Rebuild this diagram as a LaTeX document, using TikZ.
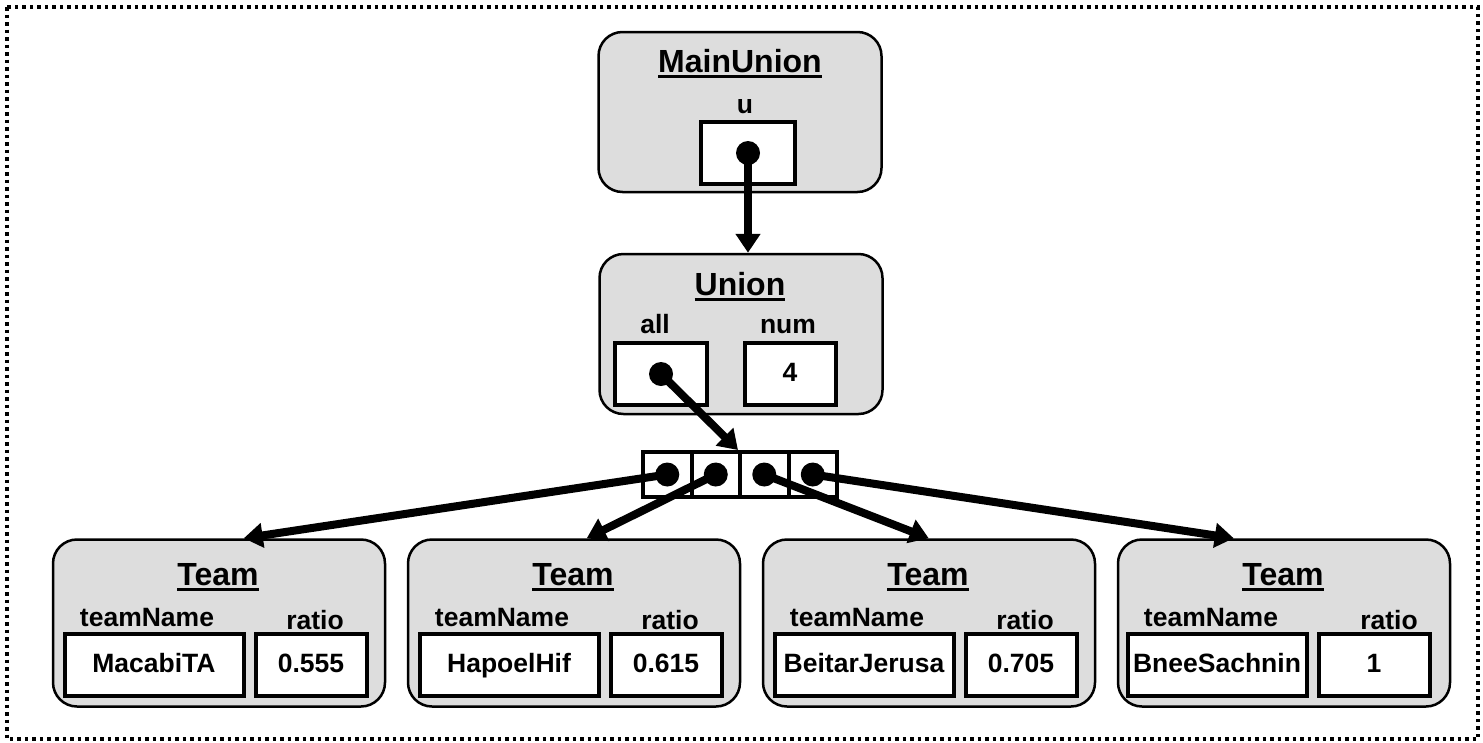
\documentclass[tikz,border=0pt]{standalone}
\usepackage{fontspec}
\setmainfont{Liberation Sans}
\usetikzlibrary{arrows.meta,calc}
\definecolor{recgray}{RGB}{221,221,221}
\newcommand{\rectitle}[1]{\setbox0=\hbox{#1}\rlap{\rule[-6pt]{\wd0}{3pt}}\box0}

\begin{document}
\begin{tikzpicture}[
    x=1pt, y=-1pt,
    record/.style={rectangle, draw, line width=2.5pt, fill=recgray, rounded corners=24pt, minimum width=283pt, minimum height=160pt},
    team/.style={record, minimum width=332pt, minimum height=167pt},
    field/.style={rectangle, draw, line width=4pt, fill=white, minimum height=62pt, inner sep=0pt, text height=14pt, text depth=0pt, font=\fontsize{26.5}{30}\selectfont\bfseries},
    cell/.style={rectangle, draw, line width=4pt, fill=white, minimum width=48.5pt, minimum height=45pt},
    rtitle/.style={anchor=base, font=\fontsize{32}{36}\selectfont\bfseries},
    fname/.style={anchor=base, font=\fontsize{26.5}{30}\selectfont\bfseries},
    arrow/.style={-{Triangle[length=19pt,width=24pt]}, line width=8pt}
]

\useasboundingbox (0,0) rectangle (1483,742);
\draw[line width=3.5pt, dash pattern=on 3.5pt off 4pt] (7,7) rectangle (1478,739);

\node[record] (main) at (740,112) {};
\node[rtitle] (mainT) at (740,72) {\rectitle{MainUnion}};
\node[fname] (uL) at (745,113) {u};
\node[field, minimum width=94pt] (u) at (748,153) {};

\node[record] (union) at (741,334) {};
\node[rtitle] (unionT) at (740,295) {\rectitle{Union}};
\node[fname] (allL) at (655,333) {all};
\node[fname] (numL) at (788,333) {num};
\node[field, minimum width=92pt] (all) at (661,374) {};
\node[field, minimum width=91pt] (num) at (790,374) {4};

\node[cell] (c1) at (667.25,474.5) {};
\node[cell] (c2) at (715.75,474.5) {};
\node[cell] (c3) at (764.25,474.5) {};
\node[cell] (c4) at (812.75,474.5) {};

\node[team] (t1) at (219,623) {};
\node[rtitle] (t1T) at (218,585) {\rectitle{Team}};
\node[fname] (t1nL) at (147,626) {teamName};
\node[fname] (t1rL) at (315,629) {ratio};
\node[field, minimum width=179pt] (t1n) at (154,665) {MacabiTA};
\node[field, minimum width=111pt] (t1r) at (311,665) {0.555};

\node[team] (t2) at (574,623) {};
\node[rtitle] (t2T) at (573,585) {\rectitle{Team}};
\node[fname] (t2nL) at (502,626) {teamName};
\node[fname] (t2rL) at (670,629) {ratio};
\node[field, minimum width=179pt] (t2n) at (509,665) {HapoelHif};
\node[field, minimum width=111pt] (t2r) at (666,665) {0.615};

\node[team] (t3) at (929,623) {};
\node[rtitle] (t3T) at (928,585) {\rectitle{Team}};
\node[fname] (t3nL) at (857,626) {teamName};
\node[fname] (t3rL) at (1025,629) {ratio};
\node[field, minimum width=179pt] (t3n) at (864,665) {BeitarJerusa};
\node[field, minimum width=111pt] (t3r) at (1021,665) {0.705};

\node[team] (t4) at (1284,623) {};
\node[rtitle] (t4T) at (1283,585) {\rectitle{Team}};
\node[fname] (t4nL) at (1211,626) {teamName};
\node[fname] (t4rL) at (1389,629) {ratio};
\node[field, minimum width=179pt] (t4n) at (1217,665) {BneeSachnin};
\node[field, minimum width=111pt] (t4r) at (1374,665) {1};

\draw[arrow] (u.center) -- (u.center |- union.north);
\draw[arrow] (all.center) -- (c3.north west);
\draw[arrow] (c1.center) -- ($(t1.north west)+(192,0)$);
\draw[arrow] (c2.center) -- ($(t2.north west)+(180,0)$);
\draw[arrow] (c3.center) -- ($(t3.north west)+(167,0)$);
\draw[arrow] (c4.center) -- ($(t4.north west)+(117,0)$);

\fill (u.center) circle (12);
\fill (all.center) circle (12);
\fill (c1.center) circle (12);
\fill (c2.center) circle (12);
\fill (c3.center) circle (12);
\fill (c4.center) circle (12);

\end{tikzpicture}
\end{document}
